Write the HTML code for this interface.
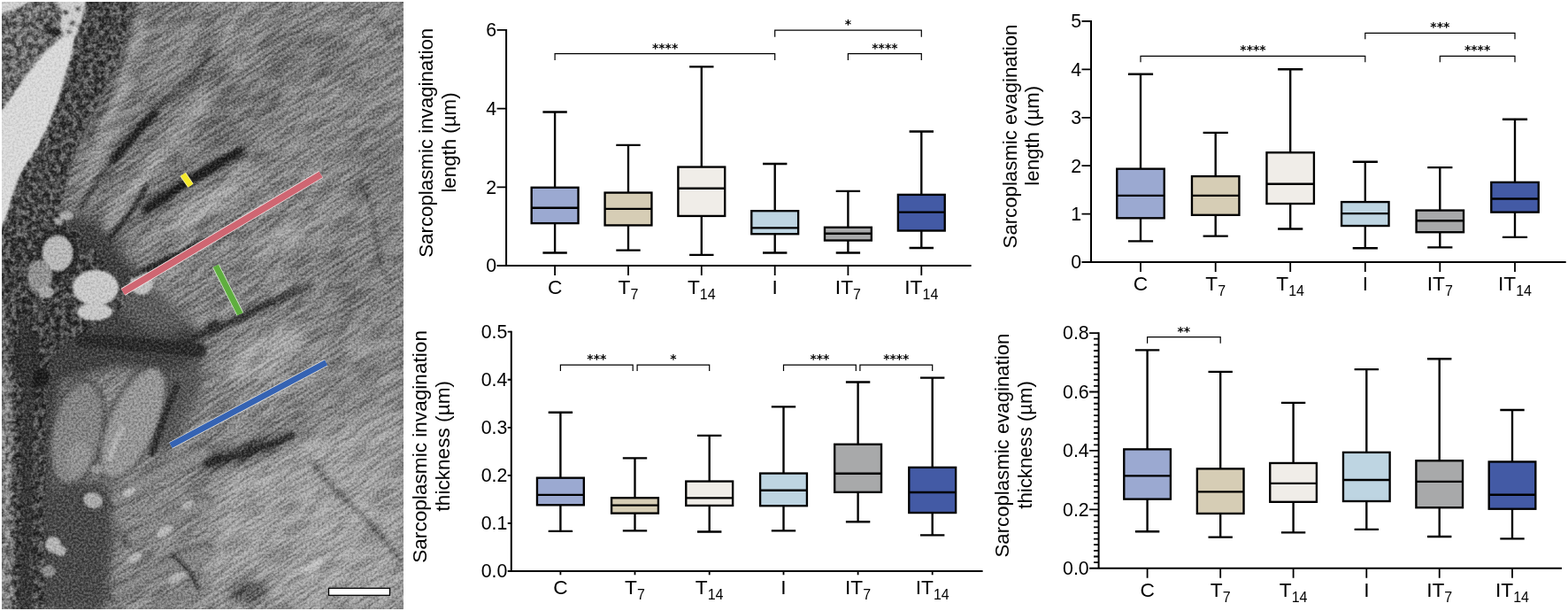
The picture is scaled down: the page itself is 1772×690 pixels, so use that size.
<!DOCTYPE html>
<html lang="en">
<head>
<meta charset="utf-8">
<title>Sarcoplasmic invagination and evagination: length and thickness</title>
<style>
html,body{margin:0;padding:0;background:#fff;}
body{width:1772px;height:690px;overflow:hidden;}
svg{display:block;}
text{font-family:"Liberation Sans", Arial, Helvetica, sans-serif;fill:#000;}
.lab{font-size:21.3px;}
.sub{font-size:16.0px;}
.yl{font-size:22.3px;}
.xl{font-size:22.7px;}
.st{font-size:14.0px;font-weight:bold;font-family:"DejaVu Sans","Liberation Sans",sans-serif;}
.ax{fill:none;stroke:#000;stroke-width:2.0;}
.tk{fill:none;stroke:#000;stroke-width:1.8;}
.wh{fill:none;stroke:#000;stroke-width:2.35;}
.bx{stroke:#000;stroke-width:2.35;}
.br{fill:none;stroke:#000;stroke-width:1.2;}
</style>
</head>
<body>
<svg width="1772" height="690" viewBox="0 0 1772 690">
<rect width="1772" height="690" fill="#fff"/>
<g id="em">
<defs>
<clipPath id="emc"><rect x="2.1" y="2.0" width="453.8" height="685.9"/></clipPath>
<clipPath id="cband"><path d="M0 0H150L145 30L140 50L125 90L107 125L95 150L82 180L75 210L65 240L90 262L120 300L140 345L100 372L60 400L52 420L50 690H0Z"/></clipPath>
<filter id="b12" x="-30%" y="-30%" width="160%" height="160%"><feGaussianBlur stdDeviation="14"/></filter>
<filter id="b6" x="-30%" y="-30%" width="160%" height="160%"><feGaussianBlur stdDeviation="6"/></filter>
<filter id="b3" x="-30%" y="-30%" width="160%" height="160%"><feGaussianBlur stdDeviation="2.4"/></filter>
<filter id="b1" x="-30%" y="-30%" width="160%" height="160%"><feGaussianBlur stdDeviation="1.1"/></filter>
<filter id="spk" x="0" y="0" width="100%" height="100%" color-interpolation-filters="sRGB">
<feTurbulence type="fractalNoise" baseFrequency="0.42" numOctaves="2" seed="5" result="n"/>
<feColorMatrix in="n" type="matrix" values="2.2 0 0 0 -0.6  2.2 0 0 0 -0.6  2.2 0 0 0 -0.6  0 0 0 0 1"/>
</filter>
<filter id="mot" x="0" y="0" width="100%" height="100%" color-interpolation-filters="sRGB">
<feTurbulence type="fractalNoise" baseFrequency="0.16" numOctaves="2" seed="9" result="n"/>
<feColorMatrix in="n" type="matrix" values="3 0 0 0 -1  3 0 0 0 -1  3 0 0 0 -1  0 0 0 0 1"/>
</filter>
<filter id="str" x="0" y="0" width="100%" height="100%" color-interpolation-filters="sRGB">
<feTurbulence type="fractalNoise" baseFrequency="0.03 0.3" numOctaves="2" seed="3" result="n"/>
<feColorMatrix in="n" type="matrix" values="3.4 0 0 0 -1.2  3.4 0 0 0 -1.2  3.4 0 0 0 -1.2  0 0 0 0 1"/>
</filter>
</defs>
<g clip-path="url(#emc)">
<rect x="0" y="0" width="460" height="690" fill="#838383"/>
<g filter="url(#b12)"><path d="M230 0L460 0L460 250L330 230L250 120Z" fill="#868686"/><path d="M240 530L460 450L460 690L200 690Z" fill="#a2a2a2"/><path d="M130 520L250 500L240 690L110 690Z" fill="#868686"/></g>
<g filter="url(#b6)"><path d="M150 0L232 0L250 60L300 180L230 280L130 300L60 262L82 180L107 125L140 50Z" fill="#767676"/><path d="M100 205Q124 140 135 111Q146 82 152 56L158 30" stroke="#9c9c9c" stroke-width="16" stroke-linecap="round" stroke-linejoin="round" fill="none" opacity="0.9"/><path d="M120 255Q165 195 182.5 171.5Q200 148 216 128L232 108" stroke="#a4a4a4" stroke-width="15" stroke-linecap="round" stroke-linejoin="round" fill="none" opacity="0.9"/><path d="M158 280Q200 246 218 232Q236 218 263 207L290 196" stroke="#a0a0a0" stroke-width="12" stroke-linecap="round" stroke-linejoin="round" fill="none" opacity="0.9"/><path d="M172 318Q200 292 225 278L250 264" stroke="#a0a0a0" stroke-width="10" stroke-linecap="round" stroke-linejoin="round" fill="none" opacity="0.8"/><ellipse cx="196" cy="60" rx="22" ry="50" fill="#868686" transform="rotate(30 196 60)"/><ellipse cx="330" cy="560" rx="60" ry="30" fill="#9e9e9e" transform="rotate(-30 330 560)"/><ellipse cx="400" cy="620" rx="50" ry="26" fill="#a0a0a0" transform="rotate(-30 400 620)"/><ellipse cx="300" cy="640" rx="50" ry="22" fill="#989898" transform="rotate(-30 300 640)"/><ellipse cx="425" cy="520" rx="26" ry="40" fill="#9c9c9c"/><ellipse cx="280" cy="668" rx="24" ry="14" fill="#545454"/><ellipse cx="280" cy="510" rx="56" ry="11" fill="#424242" transform="rotate(-20 280 510)"/><ellipse cx="300" cy="400" rx="52" ry="20" fill="#a4a4a4" transform="rotate(-28 300 400)"/><ellipse cx="235" cy="235" rx="46" ry="9" fill="#aaaaaa" transform="rotate(-32 235 235)"/><ellipse cx="330" cy="262" rx="50" ry="14" fill="#9a9a9a" transform="rotate(-30 330 262)"/><ellipse cx="392" cy="330" rx="12" ry="50" fill="#727272" transform="rotate(-15 392 330)"/><ellipse cx="280" cy="120" rx="26" ry="60" fill="#767676" transform="rotate(40 280 120)"/><ellipse cx="350" cy="60" rx="60" ry="26" fill="#747474" transform="rotate(20 350 60)"/><ellipse cx="330" cy="430" rx="50" ry="20" fill="#8e8e8e" transform="rotate(-30 330 430)"/><ellipse cx="290" cy="465" rx="40" ry="14" fill="#8e8e8e" transform="rotate(-25 290 465)"/><ellipse cx="420" cy="180" rx="30" ry="40" fill="#7c7c7c"/><ellipse cx="420" cy="380" rx="30" ry="30" fill="#8c8c8c"/></g>
<g filter="url(#b3)"><path d="M122 272Q148 240 157 225L166 210" stroke="#2c2c2c" stroke-width="6" stroke-linecap="round" stroke-linejoin="round" fill="none" opacity="0.9"/><path d="M128 180Q152 152 164 139L176 126" stroke="#282828" stroke-width="10" stroke-linecap="round" stroke-linejoin="round" fill="none" opacity="0.95"/><path d="M176 126Q200 104 211 95Q222 86 229 73L236 60" stroke="#3c3c3c" stroke-width="7" stroke-linecap="round" stroke-linejoin="round" fill="none" opacity="0.8"/><path d="M165 237Q196 215 214 204Q232 193 252 181.5L272 170" stroke="#282828" stroke-width="11" stroke-linecap="round" stroke-linejoin="round" fill="none" opacity="0.95"/><path d="M150 314Q190 292 211 282Q232 272 247 265L262 258" stroke="#323232" stroke-width="9" stroke-linecap="round" stroke-linejoin="round" fill="none" opacity="0.9"/><path d="M92 232Q108 206 118 193L128 180" stroke="#343434" stroke-width="6" stroke-linecap="round" stroke-linejoin="round" fill="none" opacity="0.85"/><path d="M100 160Q118 120 126 100Q134 80 140 60Q146 40 149 22L152 4" stroke="#404040" stroke-width="5" stroke-linecap="round" stroke-linejoin="round" fill="none" opacity="0.75"/><path d="M172 398Q220 382 246 370Q272 358 296 347Q320 336 335 329L350 322" stroke="#3e3e3e" stroke-width="10" stroke-linecap="round" stroke-linejoin="round" fill="none" opacity="0.85"/><path d="M196 284Q206 276 214 269L222 262" stroke="#bebebe" stroke-width="5" stroke-linecap="round" stroke-linejoin="round" fill="none" opacity="0.5"/><path d="M150 215Q170 190 180 180L190 170" stroke="#bebebe" stroke-width="5" stroke-linecap="round" stroke-linejoin="round" fill="none" opacity="0.4"/><path d="M345 646L360 632" stroke="#cdcdcd" stroke-width="8" stroke-linecap="round" fill="none" opacity="0.7"/><path d="M358 604L376 592" stroke="#c3c3c3" stroke-width="5" stroke-linecap="round" fill="none" opacity="0.6"/><path d="M285 540L294 532" stroke="#c3c3c3" stroke-width="6" stroke-linecap="round" fill="none" opacity="0.6"/><path d="M430 436L448 422" stroke="#c8c8c8" stroke-width="7" stroke-linecap="round" fill="none" opacity="0.6"/><path d="M250 50L262 28" stroke="#b4b4b4" stroke-width="5" stroke-linecap="round" fill="none" opacity="0.6"/><path d="M440 108L452 98" stroke="#b8b8b8" stroke-width="5" stroke-linecap="round" fill="none" opacity="0.6"/><path d="M262 196L285 184" stroke="#aaaaaa" stroke-width="6" stroke-linecap="round" fill="none" opacity="0.5"/><path d="M330 290L345 282" stroke="#b0b0b0" stroke-width="5" stroke-linecap="round" fill="none" opacity="0.5"/><path d="M300 105L312 92" stroke="#b0b0b0" stroke-width="4" stroke-linecap="round" fill="none" opacity="0.5"/><path d="M346 138L360 132" stroke="#b4b4b4" stroke-width="4" stroke-linecap="round" fill="none" opacity="0.5"/><path d="M408 205Q420 230 422 246Q424 262 427 281Q430 300 435 310L440 320" stroke="#4c4c4c" stroke-width="4" stroke-linecap="round" stroke-linejoin="round" fill="none" opacity="0.8"/><path d="M352 520Q372 548 386 560Q400 572 415 588Q430 604 441 618L452 632" stroke="#585858" stroke-width="5" stroke-linecap="round" stroke-linejoin="round" fill="none" opacity="0.8"/><path d="M418 12Q436 28 438 36L440 44" stroke="#565656" stroke-width="4" stroke-linecap="round" stroke-linejoin="round" fill="none" opacity="0.7"/><path d="M246 300Q252 318 256 325L260 332" stroke="#565656" stroke-width="4" stroke-linecap="round" stroke-linejoin="round" fill="none" opacity="0.7"/><path d="M250 118Q262 140 266 146L270 152" stroke="#5a5a5a" stroke-width="3" stroke-linecap="round" stroke-linejoin="round" fill="none" opacity="0.7"/><path d="M330 215Q342 222 347 231L352 240" stroke="#585858" stroke-width="3" stroke-linecap="round" stroke-linejoin="round" fill="none" opacity="0.6"/><ellipse cx="243" cy="520" rx="12" ry="5" fill="#282828" transform="rotate(-20 243 520)"/><ellipse cx="240" cy="366" rx="8" ry="4" fill="#323232" transform="rotate(-25 240 366)"/></g>
<g style="mix-blend-mode:soft-light" opacity="0.38"><g transform="rotate(-33 230 345)"><rect x="-200" y="-200" width="900" height="1100" filter="url(#str)"/></g></g>
<g filter="url(#b6)"><path d="M0 240L60 240L110 250L150 300L180 335L228 378L228 410L190 420L130 415L70 432L58 500L60 690L0 690Z" fill="#404040"/><path d="M50 550L120 540L130 600L120 690L50 690Z" fill="#4a4a4a"/><ellipse cx="170" cy="352" rx="40" ry="20" fill="#5c5c5c" transform="rotate(25 170 352)"/><path d="M185 420L228 405L228 440L200 500L172 520L176 470Z" fill="#565656"/></g>
<g filter="url(#b3)"><path d="M0 8L88 0L84 36L70 42L50 60L30 85L15 107L0 125Z" fill="#6a6a6a"/><path d="M88 0L150 0L145 30L140 50L125 90L107 125L95 150L82 180L75 210L65 240L55 270L0 270L6 248L13 224L21 200L33 180L43 165L55 140L65 115L72 90L80 65L85 40Z" fill="#464646"/><path d="M0 418L12 418L15 500L13 600L16 690L0 690Z" fill="#848484"/><path d="M0 350L9 345L11 418L0 418Z" fill="#686868"/><ellipse cx="87" cy="489" rx="30" ry="62" fill="#323232" transform="rotate(12 87 489)"/><ellipse cx="87" cy="489" rx="27" ry="58" fill="#848484" transform="rotate(12 87 489)"/><ellipse cx="150" cy="478" rx="29" ry="71" fill="#383838" transform="rotate(24 150 478)"/><ellipse cx="150" cy="478" rx="26" ry="67" fill="#969696" transform="rotate(24 150 478)"/><ellipse cx="89" cy="518" rx="13" ry="20" fill="#929292" transform="rotate(12 89 518)"/><path d="M128 566Q180 534 206 521L232 508" stroke="#3c3c3c" stroke-width="17" stroke-linecap="round" stroke-linejoin="round" fill="none" opacity="0.8"/><path d="M132 564Q180 534 206 522L232 510" stroke="#8c8c8c" stroke-width="13" stroke-linecap="round" stroke-linejoin="round" fill="none"/><path d="M146 610Q190 586 211 576L232 566" stroke="#3c3c3c" stroke-width="17" stroke-linecap="round" stroke-linejoin="round" fill="none" opacity="0.8"/><path d="M150 608Q190 586 211 577L232 568" stroke="#8c8c8c" stroke-width="13" stroke-linecap="round" stroke-linejoin="round" fill="none"/><path d="M128 672Q180 642 206 631L232 620" stroke="#3c3c3c" stroke-width="17" stroke-linecap="round" stroke-linejoin="round" fill="none" opacity="0.8"/><path d="M132 670Q180 642 206 632L232 622" stroke="#888888" stroke-width="13" stroke-linecap="round" stroke-linejoin="round" fill="none"/><path d="M170 690L232 664" stroke="#828282" stroke-width="14" stroke-linecap="round" stroke-linejoin="round" fill="none" opacity="0.9"/></g>
<rect x="0" y="0" width="240" height="690" filter="url(#mot)" clip-path="url(#cband)" style="mix-blend-mode:soft-light" opacity="0.6"/>
<g filter="url(#b1)"><path d="M80 37L85 40L80 65L72 90L65 115L55 140L43 165L33 180L21 200L13 224L6 248L0 260L0 128L15 107L30 85L50 60L70 42Z" fill="#d8d8d8"/><path d="M0 0L36 0L22 9L0 16Z" fill="#cecece"/><path d="M64 0L98 0L93 20L87 40L74 44L68 30L70 14Z" fill="#cdcdcd"/><ellipse cx="74" cy="14" rx="3.5" ry="3" fill="#5a5a5a"/><ellipse cx="82" cy="26" rx="3.5" ry="3" fill="#606060"/><ellipse cx="88" cy="10" rx="3" ry="3" fill="#646464"/><ellipse cx="78" cy="36" rx="3" ry="2.5" fill="#6e6e6e"/><ellipse cx="90" cy="30" rx="2.5" ry="2.5" fill="#646464"/><ellipse cx="61" cy="36" rx="8" ry="4" fill="#242424"/><ellipse cx="54" cy="30" rx="4" ry="5" fill="#323232"/><ellipse cx="65" cy="285" rx="24" ry="27" fill="#2c2c2c"/><ellipse cx="65" cy="286" rx="17" ry="20" fill="#b8b8b8"/><ellipse cx="108" cy="325" rx="26" ry="20" fill="#c8c8c8"/><ellipse cx="107" cy="352" rx="20" ry="10" fill="#c6c6c6"/><ellipse cx="160" cy="320" rx="13" ry="13" fill="#bebebe"/><ellipse cx="45" cy="312" rx="14" ry="18" fill="#929292"/><ellipse cx="52" cy="330" rx="9" ry="7" fill="#a6a6a6"/><ellipse cx="75" cy="244" rx="8" ry="5" fill="#aaaaaa"/><ellipse cx="66" cy="250" rx="5" ry="4" fill="#a6a6a6"/><ellipse cx="105" cy="565" rx="11" ry="9" fill="#aaaaaa" transform="rotate(20 105 565)"/><ellipse cx="60" cy="615" rx="9" ry="9" fill="#b4b4b4"/><ellipse cx="68" cy="622" rx="7" ry="6" fill="#b0b0b0"/><ellipse cx="55" cy="645" rx="8" ry="7" fill="#8c8c8c"/><ellipse cx="110" cy="530" rx="7" ry="5" fill="#969696"/><path d="M124 518Q130 500 134 492L138 484" stroke="#b9b9b9" stroke-width="6" stroke-linecap="round" stroke-linejoin="round" fill="none" opacity="0.8"/><ellipse cx="146" cy="556" rx="8" ry="4" fill="#b9b9b9" transform="rotate(-30 146 556)"/><ellipse cx="186" cy="600" rx="10" ry="5" fill="#b9b9b9" transform="rotate(-30 186 600)"/><ellipse cx="152" cy="630" rx="10" ry="5" fill="#b4b4b4" transform="rotate(-30 152 630)"/><ellipse cx="200" cy="652" rx="10" ry="5" fill="#b0b0b0" transform="rotate(-30 200 652)"/><ellipse cx="212" cy="570" rx="8" ry="4" fill="#b0b0b0" transform="rotate(-30 212 570)"/><path d="M129 180Q152 153 163.5 140.5L175 128" stroke="#222222" stroke-width="6" stroke-linecap="round" stroke-linejoin="round" fill="none" opacity="0.9"/><path d="M167 236Q196 216 214 205Q232 194 250 183L268 172" stroke="#202020" stroke-width="7" stroke-linecap="round" stroke-linejoin="round" fill="none" opacity="0.9"/><path d="M152 312Q190 292 211 282L232 272" stroke="#282828" stroke-width="5" stroke-linecap="round" stroke-linejoin="round" fill="none" opacity="0.8"/><path d="M124 270Q148 240 156 227L164 214" stroke="#282828" stroke-width="3.5" stroke-linecap="round" stroke-linejoin="round" fill="none" opacity="0.8"/><path d="M200 389Q240 374 256 366Q272 358 291 349.5L310 341" stroke="#2c2c2c" stroke-width="5" stroke-linecap="round" stroke-linejoin="round" fill="none" opacity="0.8"/><path d="M234 524Q262 516 281 510Q300 504 315 498L330 492" stroke="#282828" stroke-width="7" stroke-linecap="round" stroke-linejoin="round" fill="none" opacity="0.85"/><ellipse cx="40" cy="426" rx="16" ry="12" fill="#1c1c1c"/><ellipse cx="30" cy="400" rx="14" ry="30" fill="#2e2e2e"/><path d="M92 384Q140 388 165 390Q190 392 208 394L226 396" stroke="#282828" stroke-width="15" stroke-linecap="round" stroke-linejoin="round" fill="none" opacity="0.9"/><path d="M172 512Q182 480 191 458L200 436" stroke="#2c2c2c" stroke-width="8" stroke-linecap="round" stroke-linejoin="round" fill="none" opacity="0.85"/><path d="M26 360Q34 440 31 480Q28 520 30 560Q32 600 29 643L26 686" stroke="#363636" stroke-width="12" stroke-linecap="round" stroke-linejoin="round" fill="none" opacity="0.8"/><path d="M196 628Q212 640 218 652L224 664" stroke="#323232" stroke-width="5" stroke-linecap="round" stroke-linejoin="round" fill="none" opacity="0.7"/></g>
<rect x="0" y="0" width="460" height="690" filter="url(#spk)" style="mix-blend-mode:soft-light" opacity="0.5"/>
<path d="M139.0 329.8L362.6 196.9" stroke="#f2e8e8" stroke-width="9.2" fill="none"/><path d="M139.0 329.8L362.6 196.9" stroke="#cf6672" stroke-width="7.6" fill="none"/>
<path d="M243.9 300.3L271.4 354.7" stroke="#d8ecd0" stroke-width="8.4" fill="none"/><path d="M243.9 300.3L271.4 354.7" stroke="#5fae3f" stroke-width="6.8" fill="none"/>
<path d="M193.0 503.1L368.6 409.5" stroke="#e6e2da" stroke-width="8.4" fill="none"/><path d="M193.0 503.1L368.6 409.5" stroke="#3563b3" stroke-width="6.8" fill="none"/>
<path d="M206.8 197.0L215.5 209.6" stroke="#f4efb0" stroke-width="7.800000000000001" fill="none"/><path d="M206.8 197.0L215.5 209.6" stroke="#f4e92a" stroke-width="6.2" fill="none"/>
<rect x="371.5" y="664.3" width="69" height="8" fill="#fff" stroke="#000" stroke-width="1.3"/>
</g>
</g>
<g class="chart" id="c1">
<text class="yl" style="font-size:22.3px" text-anchor="middle" transform="translate(489.2 161.3) rotate(-90)">Sarcoplasmic invagination</text>
<text class="yl" style="font-size:22.3px" text-anchor="middle" transform="translate(514.8 161) rotate(-90)">length (µm)</text>
<path class="wh" d="M627.1 126.5V285.5M613.4 126.5h27.4M613.4 285.5h27.4"/>
<rect class="bx" x="600.68" y="211.78" width="52.85" height="40.35" fill="#9ba9d1"/>
<path class="wh" d="M600.68 234.7h52.85"/>
<path class="wh" d="M710 163.9V282.6M696.3 163.9h27.4M696.3 282.6h27.4"/>
<rect class="bx" x="683.58" y="217.58" width="52.85" height="36.85" fill="#d6cdb5"/>
<path class="wh" d="M683.58 235.9h52.85"/>
<path class="wh" d="M792.8 75.4V287.8M779.1 75.4h27.4M779.1 287.8h27.4"/>
<rect class="bx" x="766.38" y="188.58" width="52.85" height="55.35" fill="#f0ede8"/>
<path class="wh" d="M766.38 212.7h52.85"/>
<path class="wh" d="M875.7 185V285.5M862 185h27.4M862 285.5h27.4"/>
<rect class="bx" x="849.28" y="238.18" width="52.85" height="26.05" fill="#bed5e2"/>
<path class="wh" d="M849.28 257.3h52.85"/>
<path class="wh" d="M958.4 215.9V285.5M944.7 215.9h27.4M944.7 285.5h27.4"/>
<rect class="bx" x="931.98" y="256.77" width="52.85" height="14.75" fill="#a8a9aa"/>
<path class="wh" d="M931.98 263.7h52.85"/>
<path class="wh" d="M1041.3 148.5V280M1027.6 148.5h27.4M1027.6 280h27.4"/>
<rect class="bx" x="1014.88" y="219.88" width="52.85" height="40.65" fill="#435aa5"/>
<path class="wh" d="M1014.88 239.6h52.85"/>
<path class="ax" d="M572.1 33V300M561.6 300H1097.6"/>
<text class="lab" text-anchor="end" x="561.2" y="307.3">0</text>
<text class="lab" text-anchor="end" x="561.2" y="218.6">2</text>
<text class="lab" text-anchor="end" x="561.2" y="129.9">4</text>
<text class="lab" text-anchor="end" x="561.2" y="41.2">6</text>
<path class="tk" d="M561.6 211.3H572.1M561.6 122.6H572.1M561.6 33.9H572.1M627.1 300v11M710 300v11M792.8 300v11M875.7 300v11M958.4 300v11M1041.3 300v11"/>
<text class="xl" text-anchor="middle" x="627.1" y="331.7">C</text>
<text class="xl" text-anchor="middle" x="710" y="331.7">T<tspan class="sub" dy="6.0">7</tspan></text>
<text class="xl" text-anchor="middle" x="792.8" y="331.7">T<tspan class="sub" dy="6.0">14</tspan></text>
<text class="xl" text-anchor="middle" x="875.7" y="331.7">I</text>
<text class="xl" text-anchor="middle" x="958.4" y="331.7">IT<tspan class="sub" dy="6.0">7</tspan></text>
<text class="xl" text-anchor="middle" x="1041.3" y="331.7">IT<tspan class="sub" dy="6.0">14</tspan></text>
<path class="br" d="M627.1 67.9V60.6H875.7V67.9"/>
<text class="st" text-anchor="middle" x="751.6" y="58.6">****</text>
<path class="br" d="M875.7 41.8V34.2H1041.3V41.8"/>
<text class="st" text-anchor="middle" x="958.4" y="32.2">*</text>
<path class="br" d="M958.4 67.9V60.6H1041.3V67.9"/>
<text class="st" text-anchor="middle" x="999.9" y="58.6">****</text>
</g>
<g class="chart" id="c2">
<text class="yl" style="font-size:22.2px" text-anchor="middle" transform="translate(1148.7 154) rotate(-90)">Sarcoplasmic evagination</text>
<text class="yl" style="font-size:22.2px" text-anchor="middle" transform="translate(1174 153.3) rotate(-90)">length (µm)</text>
<path class="wh" d="M1289 83.7V272.4M1274.9 83.7h28.2M1274.9 272.4h28.2"/>
<rect class="bx" x="1262.28" y="190.68" width="53.45" height="55.65" fill="#9ba9d1"/>
<path class="wh" d="M1262.28 220.8h53.45"/>
<path class="wh" d="M1373.7 149.8V266.6M1359.6 149.8h28.2M1359.6 266.6h28.2"/>
<rect class="bx" x="1346.98" y="199.08" width="53.45" height="43.75" fill="#d6cdb5"/>
<path class="wh" d="M1346.98 220.8h53.45"/>
<path class="wh" d="M1458.2 78.2V258.5M1444.1 78.2h28.2M1444.1 258.5h28.2"/>
<rect class="bx" x="1431.48" y="172.28" width="53.45" height="57.75" fill="#f0ede8"/>
<path class="wh" d="M1431.48 207.7h53.45"/>
<path class="wh" d="M1542.8 182.7V280.2M1528.7 182.7h28.2M1528.7 280.2h28.2"/>
<rect class="bx" x="1516.08" y="228.08" width="53.45" height="26.95" fill="#bed5e2"/>
<path class="wh" d="M1516.08 241.1h53.45"/>
<path class="wh" d="M1627.3 189.1V279.4M1613.2 189.1h28.2M1613.2 279.4h28.2"/>
<rect class="bx" x="1600.58" y="237.58" width="53.45" height="24.65" fill="#a8a9aa"/>
<path class="wh" d="M1600.58 249.2h53.45"/>
<path class="wh" d="M1712 134.7V267.8M1697.9 134.7h28.2M1697.9 267.8h28.2"/>
<rect class="bx" x="1685.28" y="205.88" width="53.45" height="33.75" fill="#435aa5"/>
<path class="wh" d="M1685.28 224.5h53.45"/>
<path class="ax" d="M1233 23.1V296M1222.5 296H1769.7"/>
<text class="lab" text-anchor="end" x="1222.1" y="303.3">0</text>
<text class="lab" text-anchor="end" x="1222.1" y="248.9">1</text>
<text class="lab" text-anchor="end" x="1222.1" y="194.5">2</text>
<text class="lab" text-anchor="end" x="1222.1" y="140.1">3</text>
<text class="lab" text-anchor="end" x="1222.1" y="85.7">4</text>
<text class="lab" text-anchor="end" x="1222.1" y="31.3">5</text>
<path class="tk" d="M1222.5 241.6H1233M1222.5 187.2H1233M1222.5 132.8H1233M1222.5 78.4H1233M1222.5 24H1233M1289 296v11M1373.7 296v11M1458.2 296v11M1542.8 296v11M1627.3 296v11M1712 296v11"/>
<text class="xl" text-anchor="middle" x="1289" y="327.7">C</text>
<text class="xl" text-anchor="middle" x="1373.7" y="327.7">T<tspan class="sub" dy="6.0">7</tspan></text>
<text class="xl" text-anchor="middle" x="1458.2" y="327.7">T<tspan class="sub" dy="6.0">14</tspan></text>
<text class="xl" text-anchor="middle" x="1542.8" y="327.7">I</text>
<text class="xl" text-anchor="middle" x="1627.3" y="327.7">IT<tspan class="sub" dy="6.0">7</tspan></text>
<text class="xl" text-anchor="middle" x="1712" y="327.7">IT<tspan class="sub" dy="6.0">14</tspan></text>
<path class="br" d="M1289 70.3V63.4H1542.8V70.3"/>
<text class="st" text-anchor="middle" x="1416" y="61.4">****</text>
<path class="br" d="M1542.8 44.2V37.3H1712V44.2"/>
<text class="st" text-anchor="middle" x="1627.3" y="35.3">***</text>
<path class="br" d="M1627.3 70.3V63.4H1712V70.3"/>
<text class="st" text-anchor="middle" x="1669.6" y="61.4">****</text>
</g>
<g class="chart" id="c3">
<text class="yl" style="font-size:22.64px" text-anchor="middle" transform="translate(482.2 504.4) rotate(-90)">Sarcoplasmic invagination</text>
<text class="yl" style="font-size:22.64px" text-anchor="middle" transform="translate(508.1 503.7) rotate(-90)">thickness (µm)</text>
<path class="wh" d="M633.4 465.7V599.9M619.7 465.7h27.4M619.7 599.9h27.4"/>
<rect class="bx" x="606.98" y="539.67" width="52.85" height="30.65" fill="#9ba9d1"/>
<path class="wh" d="M606.98 558.8h52.85"/>
<path class="wh" d="M717.5 517.4V599.4M703.8 517.4h27.4M703.8 599.4h27.4"/>
<rect class="bx" x="691.08" y="562.27" width="52.85" height="17.35" fill="#d6cdb5"/>
<path class="wh" d="M691.08 570.6h52.85"/>
<path class="wh" d="M801.7 491.8V600.5M788 491.8h27.4M788 600.5h27.4"/>
<rect class="bx" x="775.28" y="543.57" width="52.85" height="27.35" fill="#f0ede8"/>
<path class="wh" d="M775.28 562.4h52.85"/>
<path class="wh" d="M885.5 459.3V599.4M871.8 459.3h27.4M871.8 599.4h27.4"/>
<rect class="bx" x="859.08" y="534.57" width="52.85" height="36.65" fill="#bed5e2"/>
<path class="wh" d="M859.08 553.7h52.85"/>
<path class="wh" d="M969.6 431.5V589.2M955.9 431.5h27.4M955.9 589.2h27.4"/>
<rect class="bx" x="943.18" y="501.78" width="52.85" height="54.05" fill="#a8a9aa"/>
<path class="wh" d="M943.18 534.7h52.85"/>
<path class="wh" d="M1053.7 426.6V604.3M1040 426.6h27.4M1040 604.3h27.4"/>
<rect class="bx" x="1027.28" y="527.88" width="52.85" height="51.15" fill="#435aa5"/>
<path class="wh" d="M1027.28 556h52.85"/>
<path class="ax" d="M577.8 373.8V644.9M573.7 644.9H1110.6"/>
<text class="lab" text-anchor="end" x="573.3" y="652.2">0.0</text>
<text class="lab" text-anchor="end" x="573.3" y="598.16">0.1</text>
<text class="lab" text-anchor="end" x="573.3" y="544.12">0.2</text>
<text class="lab" text-anchor="end" x="573.3" y="490.08">0.3</text>
<text class="lab" text-anchor="end" x="573.3" y="436.04">0.4</text>
<text class="lab" text-anchor="end" x="573.3" y="382">0.5</text>
<path class="tk" d="M573.7 590.86H577.8M573.7 536.82H577.8M573.7 482.78H577.8M573.7 428.74H577.8M573.7 374.7H577.8M633.4 644.9v4.3M717.5 644.9v4.3M801.7 644.9v4.3M885.5 644.9v4.3M969.6 644.9v4.3M1053.7 644.9v4.3"/>
<text class="xl" text-anchor="middle" x="633.4" y="670.7">C</text>
<text class="xl" text-anchor="middle" x="717.5" y="670.7">T<tspan class="sub" dy="6.0">7</tspan></text>
<text class="xl" text-anchor="middle" x="801.7" y="670.7">T<tspan class="sub" dy="6.0">14</tspan></text>
<text class="xl" text-anchor="middle" x="885.5" y="670.7">I</text>
<text class="xl" text-anchor="middle" x="969.6" y="670.7">IT<tspan class="sub" dy="6.0">7</tspan></text>
<text class="xl" text-anchor="middle" x="1053.7" y="670.7">IT<tspan class="sub" dy="6.0">14</tspan></text>
<path class="br" d="M633.4 419V412.1H715.2V419"/>
<text class="st" text-anchor="middle" x="674.3" y="410.1">***</text>
<path class="br" d="M720.1 419V412.1H801.7V419"/>
<text class="st" text-anchor="middle" x="760.8" y="410.1">*</text>
<path class="br" d="M885.5 419V412.1H967.3V419"/>
<text class="st" text-anchor="middle" x="926.4" y="410.1">***</text>
<path class="br" d="M971.9 419V412.1H1053.7V419"/>
<text class="st" text-anchor="middle" x="1012.8" y="410.1">****</text>
</g>
<g class="chart" id="c4">
<text class="yl" style="font-size:22.2px" text-anchor="middle" transform="translate(1140.1 503.05) rotate(-90)">Sarcoplasmic evagination</text>
<text class="yl" style="font-size:22.2px" text-anchor="middle" transform="translate(1165.5 502.4) rotate(-90)">thickness (µm)</text>
<path class="wh" d="M1296.6 395.4V600.2M1282.9 395.4h27.4M1282.9 600.2h27.4"/>
<rect class="bx" x="1270.27" y="507.38" width="52.65" height="56.25" fill="#9ba9d1"/>
<path class="wh" d="M1270.27 537.3h52.65"/>
<path class="wh" d="M1379.2 419.8V606.6M1365.5 419.8h27.4M1365.5 606.6h27.4"/>
<rect class="bx" x="1352.88" y="529.38" width="52.65" height="50.55" fill="#d6cdb5"/>
<path class="wh" d="M1352.88 555.3h52.65"/>
<path class="wh" d="M1461.6 454.9V601.4M1447.9 454.9h27.4M1447.9 601.4h27.4"/>
<rect class="bx" x="1435.27" y="522.97" width="52.65" height="43.85" fill="#f0ede8"/>
<path class="wh" d="M1435.27 545.8h52.65"/>
<path class="wh" d="M1544.3 417.1V597.9M1530.6 417.1h27.4M1530.6 597.9h27.4"/>
<rect class="bx" x="1517.97" y="510.88" width="52.65" height="55.15" fill="#bed5e2"/>
<path class="wh" d="M1517.97 542h52.65"/>
<path class="wh" d="M1626.7 405.2V606M1613 405.2h27.4M1613 606h27.4"/>
<rect class="bx" x="1600.38" y="520.27" width="52.65" height="52.95" fill="#a8a9aa"/>
<path class="wh" d="M1600.38 543.8h52.65"/>
<path class="wh" d="M1709 463V608.3M1695.3 463h27.4M1695.3 608.3h27.4"/>
<rect class="bx" x="1682.67" y="521.47" width="52.65" height="53.25" fill="#435aa5"/>
<path class="wh" d="M1682.67 558.7h52.65"/>
<path class="ax" d="M1241.6 375.15V641.8M1231.1 641.8H1765"/>
<text class="lab" text-anchor="end" x="1230.7" y="649.1">0.0</text>
<text class="lab" text-anchor="end" x="1230.7" y="582.66">0.2</text>
<text class="lab" text-anchor="end" x="1230.7" y="516.22">0.4</text>
<text class="lab" text-anchor="end" x="1230.7" y="449.79">0.6</text>
<text class="lab" text-anchor="end" x="1230.7" y="383.35">0.8</text>
<path class="tk" d="M1231.1 575.36H1241.6M1231.1 508.92H1241.6M1231.1 442.49H1241.6M1231.1 376.05H1241.6M1236 635.16H1241.6M1236 628.51H1241.6M1236 621.87H1241.6M1236 615.22H1241.6M1236 608.58H1241.6M1236 601.94H1241.6M1236 595.29H1241.6M1236 588.65H1241.6M1236 582.01H1241.6M1236 568.72H1241.6M1236 562.07H1241.6M1236 555.43H1241.6M1236 548.79H1241.6M1236 542.14H1241.6M1236 535.5H1241.6M1236 528.86H1241.6M1236 522.21H1241.6M1236 515.57H1241.6M1236 502.28H1241.6M1236 495.64H1241.6M1236 488.99H1241.6M1236 482.35H1241.6M1236 475.71H1241.6M1236 469.06H1241.6M1236 462.42H1241.6M1236 455.77H1241.6M1236 449.13H1241.6M1236 435.84H1241.6M1236 429.2H1241.6M1236 422.56H1241.6M1236 415.91H1241.6M1236 409.27H1241.6M1236 402.62H1241.6M1236 395.98H1241.6M1236 389.34H1241.6M1236 382.69H1241.6M1296.6 641.8v11M1379.2 641.8v11M1461.6 641.8v11M1544.3 641.8v11M1626.7 641.8v11M1709 641.8v11"/>
<text class="xl" text-anchor="middle" x="1296.6" y="673.7">C</text>
<text class="xl" text-anchor="middle" x="1379.2" y="673.7">T<tspan class="sub" dy="6.0">7</tspan></text>
<text class="xl" text-anchor="middle" x="1461.6" y="673.7">T<tspan class="sub" dy="6.0">14</tspan></text>
<text class="xl" text-anchor="middle" x="1544.3" y="673.7">I</text>
<text class="xl" text-anchor="middle" x="1626.7" y="673.7">IT<tspan class="sub" dy="6.0">7</tspan></text>
<text class="xl" text-anchor="middle" x="1709" y="673.7">IT<tspan class="sub" dy="6.0">14</tspan></text>
<path class="br" d="M1296.6 387.7V380.6H1379.2V387.7"/>
<text class="st" text-anchor="middle" x="1337.8" y="378.6">**</text>
</g>
</svg>
</body>
</html>
